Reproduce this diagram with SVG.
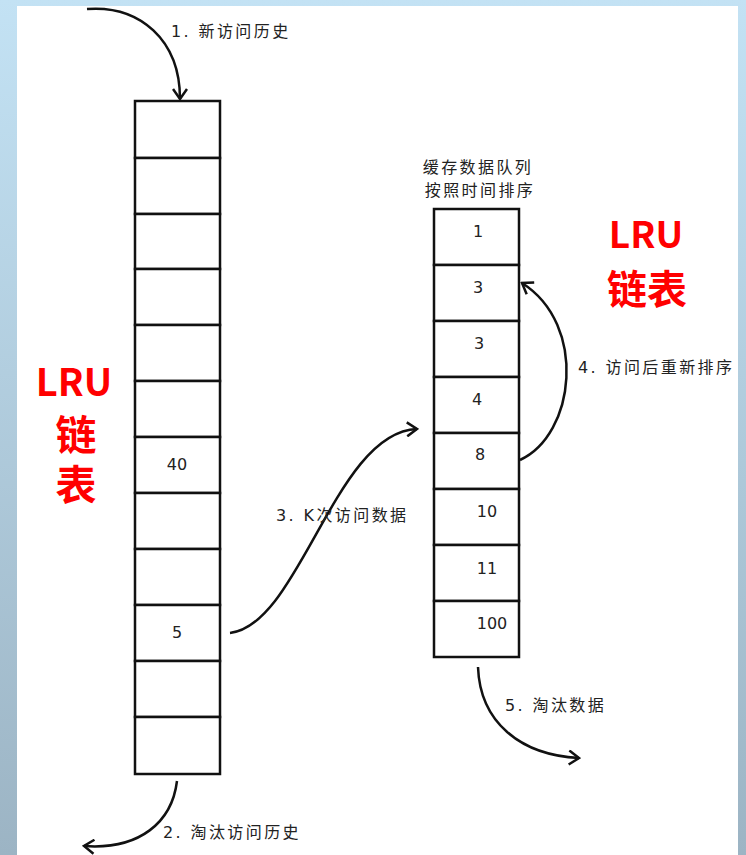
<svg xmlns="http://www.w3.org/2000/svg" width="746" height="855" viewBox="0 0 746 855">
<defs>
<linearGradient id="bg" x1="0" y1="0" x2="0" y2="1">
<stop offset="0" stop-color="#c3e2f4"/>
<stop offset="1" stop-color="#9cb4c4"/>
</linearGradient>
<marker id="ah" viewBox="-12 -8 14 16" refX="0" refY="0" markerWidth="14" markerHeight="16" markerUnits="userSpaceOnUse" orient="auto">
<path d="M-10,-7 L0,0 L-10,7" fill="none" stroke="#111" stroke-width="2.5" stroke-linejoin="miter"/>
</marker>
</defs>
<style>
.cell{fill:#fff;stroke:#111;stroke-width:2.5}
.num{font-family:"DejaVu Sans","Noto Sans CJK SC",sans-serif;font-size:16px;fill:#222;text-anchor:middle}
.lbl{font-family:"DejaVu Sans","Noto Sans CJK SC",sans-serif;font-size:16px;fill:#222;letter-spacing:2.4px}
.red{font-family:"Noto Sans CJK SC",sans-serif;font-weight:bold;fill:#ff0000;text-anchor:middle}
.conn{fill:none;stroke:#111;stroke-width:2.5;marker-end:url(#ah)}
</style>
<rect x="0" y="0" width="746" height="855" fill="url(#bg)"/>
<rect x="17" y="6" width="721" height="849" fill="#fff"/>

<g id="history-list">
<rect class="cell" x="135" y="101" width="85" height="57"/>
<rect class="cell" x="135" y="158" width="85" height="56"/>
<rect class="cell" x="135" y="214" width="85" height="55"/>
<rect class="cell" x="135" y="269" width="85" height="56"/>
<rect class="cell" x="135" y="325" width="85" height="56"/>
<rect class="cell" x="135" y="381" width="85" height="56"/>
<rect class="cell" x="135" y="437" width="85" height="56"/>
<rect class="cell" x="135" y="493" width="85" height="56"/>
<rect class="cell" x="135" y="549" width="85" height="56"/>
<rect class="cell" x="135" y="605" width="85" height="56"/>
<rect class="cell" x="135" y="661" width="85" height="56"/>
<rect class="cell" x="135" y="717" width="85" height="57"/>
<text class="num" x="177" y="470">40</text>
<text class="num" x="177" y="638">5</text>
</g>

<g id="cache-list">
<text class="lbl" x="478" y="173" text-anchor="middle">缓存数据队列</text>
<text class="lbl" x="480" y="196" text-anchor="middle">按照时间排序</text>
<rect class="cell" x="434" y="209" width="85" height="56"/>
<rect class="cell" x="434" y="265" width="85" height="56"/>
<rect class="cell" x="434" y="321" width="85" height="56"/>
<rect class="cell" x="434" y="377" width="85" height="56"/>
<rect class="cell" x="434" y="433" width="85" height="56"/>
<rect class="cell" x="434" y="489" width="85" height="56"/>
<rect class="cell" x="434" y="545" width="85" height="56"/>
<rect class="cell" x="434" y="601" width="85" height="56"/>
<text class="num" x="478" y="237">1</text>
<text class="num" x="478" y="293">3</text>
<text class="num" x="479" y="349">3</text>
<text class="num" x="477" y="405">4</text>
<text class="num" x="480" y="460">8</text>
<text class="num" x="487" y="517">10</text>
<text class="num" x="487" y="574">11</text>
<text class="num" x="492" y="629">100</text>
</g>

<g id="lru-left">
<text class="red" x="74" y="396" font-size="38">LRU</text>
<text x="76" y="414" font-size="41" font-family="Noto Sans CJK SC, sans-serif" font-weight="bold" fill="#ff0000" writing-mode="vertical-rl" letter-spacing="9">链表</text>
</g>

<g id="lru-right">
<text class="red" x="646" y="248" font-size="37">LRU</text>
<text class="red" x="647" y="304" font-size="40">链表</text>
</g>

<g id="connectors">
<path class="conn" d="M87,9 C140,5 180,40 180,99"/>
<path class="conn" d="M177,781 C172,822 140,850 84,846"/>
<path class="conn" d="M230,633 C300,625 335,432 417,429"/>
<path class="conn" d="M520,460 C575,435 588,325 522,283"/>
<path class="conn" d="M478,667 C480,722 520,755 579,758"/>
</g>

<g id="labels">
<text class="lbl" x="171" y="37">1. 新访问历史</text>
<text class="lbl" x="163" y="838">2. 淘汰访问历史</text>
<text class="lbl" x="276" y="521">3. K次访问数据</text>
<text class="lbl" x="578" y="373">4. 访问后重新排序</text>
<text class="lbl" x="505" y="711">5. 淘汰数据</text>
</g>
</svg>
